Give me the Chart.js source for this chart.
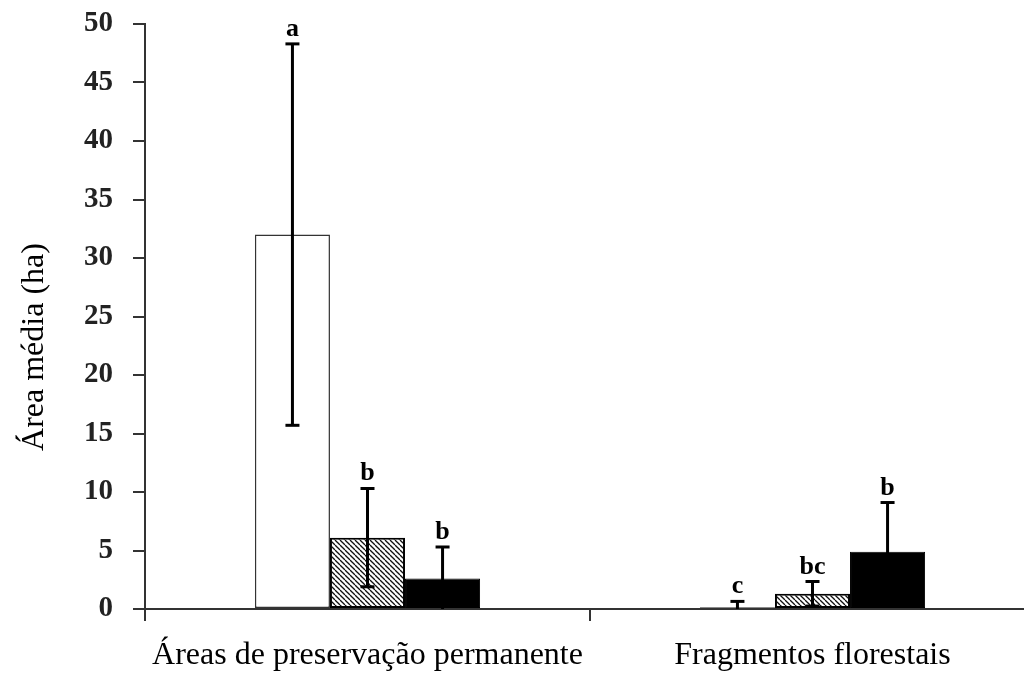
<!DOCTYPE html>
<html><head><meta charset="utf-8">
<script src="https://cdn.jsdelivr.net/npm/chart.js@4.4.0/dist/chart.umd.min.js"></script>
<style>html,body{margin:0;padding:0;background:#fff;overflow:hidden;}canvas{display:block;}</style>
</head><body>
<canvas id="c" width="1040" height="675" style="width:1040px;height:675px"></canvas>
<script>
const categories = ["Áreas de preservação permanente", "Fragmentos florestais"];
const whiteVals = [32.0, 0.15];
const whiteErr = [16.3, 0.5];
const hatchVals = [6.1, 1.3];
const hatchErr = [4.2, 1.05];
const blackVals = [2.6, 4.9];
const blackErr = [2.7, 4.2];
const whiteLetters = ["a", "c"];
const hatchLetters = ["b", "bc"];
const blackLetters = ["b", "b"];
const yTicks = [0, 5, 10, 15, 20, 25, 30, 35, 40, 45, 50];
const yTitle = "Área média (ha)";

function hatch() {
  const s = 5, cv = document.createElement('canvas');
  cv.width = s; cv.height = s;
  const g = cv.getContext('2d');
  g.fillStyle = '#fff'; g.fillRect(0, 0, s, s);
  g.strokeStyle = '#111'; g.lineWidth = 1.3;
  for (let k = -1; k <= 1; k++) { g.beginPath(); g.moveTo(k * s, 0); g.lineTo(k * s + s, s); g.stroke(); }
  return document.getElementById('c').getContext('2d').createPattern(cv, 'repeat');
}

const errs = [whiteErr, hatchErr, blackErr];
const letters = [whiteLetters, hatchLetters, blackLetters];

const extras = {
  id: 'extras',
  afterDatasetsDraw(chart) {
    const ctx = chart.ctx, y = chart.scales.y;
    ctx.save();
    chart.data.datasets.forEach((ds, i) => {
      chart.getDatasetMeta(i).data.forEach((bar, j) => {
        const v = ds.data[j], e = errs[i][j];
        const yt = y.getPixelForValue(v + e);
        const lo = v - e;
        const yb = y.getPixelForValue(Math.max(lo, 0));
        ctx.strokeStyle = '#000'; ctx.lineWidth = 3;
        ctx.beginPath(); ctx.moveTo(bar.x, yt); ctx.lineTo(bar.x, yb); ctx.stroke();
        ctx.beginPath(); ctx.moveTo(bar.x - 7, yt); ctx.lineTo(bar.x + 7, yt); ctx.stroke();
        if (lo > 0) { ctx.beginPath(); ctx.moveTo(bar.x - 7, yb); ctx.lineTo(bar.x + 7, yb); ctx.stroke(); }
        ctx.fillStyle = '#000';
        ctx.font = 'bold 26px "Liberation Serif", serif';
        ctx.textAlign = 'center'; ctx.textBaseline = 'alphabetic';
        ctx.fillText(letters[i][j], bar.x, yt - 8);
      });
    });
    ctx.translate(35, 347); ctx.rotate(-Math.PI / 2);
    ctx.font = '32px "Liberation Serif", serif';
    ctx.fillStyle = '#000'; ctx.textAlign = 'center'; ctx.textBaseline = 'middle';
    ctx.fillText(yTitle, 0, 0);
    ctx.restore();
  }
};

new Chart(document.getElementById('c'), {
  type: 'bar',
  data: {
    labels: categories,
    datasets: [
      { data: whiteVals, backgroundColor: '#fff', borderColor: '#333', borderWidth: 1.5, borderSkipped: false },
      { data: hatchVals, backgroundColor: hatch(), borderColor: '#000', borderWidth: 2, borderSkipped: false },
      { data: blackVals, backgroundColor: '#000', borderColor: '#000', borderWidth: 1, borderSkipped: false }
    ]
  },
  options: {
    responsive: false, animation: false,
    categoryPercentage: 0.506, barPercentage: 1.0,
    layout: { padding: { top: 24, right: 5, left: 0, bottom: 0 } },
    plugins: { legend: { display: false }, tooltip: { enabled: false } },
    scales: {
      x: {
        grid: { display: true, drawOnChartArea: false, offset: true, tickLength: 12, color: '#333', lineWidth: 2 },
        border: { display: true, color: '#333', width: 2 },
        ticks: { color: '#000', font: { family: '"Liberation Serif", serif', size: 32 }, padding: 15, maxRotation: 0 },
        afterFit(s) { s.height = 66; s.paddingLeft = 0; s.paddingRight = 0; }
      },
      y: {
        min: 0, max: 50,
        afterBuildTicks(s) { s.ticks = yTicks.map(v => ({ value: v })); },
        grid: { display: true, drawOnChartArea: false, tickLength: 12, color: '#333', lineWidth: 2 },
        border: { display: true, color: '#333', width: 2 },
        ticks: { color: '#222', font: { family: '"Liberation Serif", serif', size: 29, weight: 'bold' }, padding: 20 },
        afterFit(s) { s.width = 145; s.paddingTop = 0; s.paddingBottom = 0; }
      }
    }
  },
  plugins: [extras]
});
</script>
</body></html>
